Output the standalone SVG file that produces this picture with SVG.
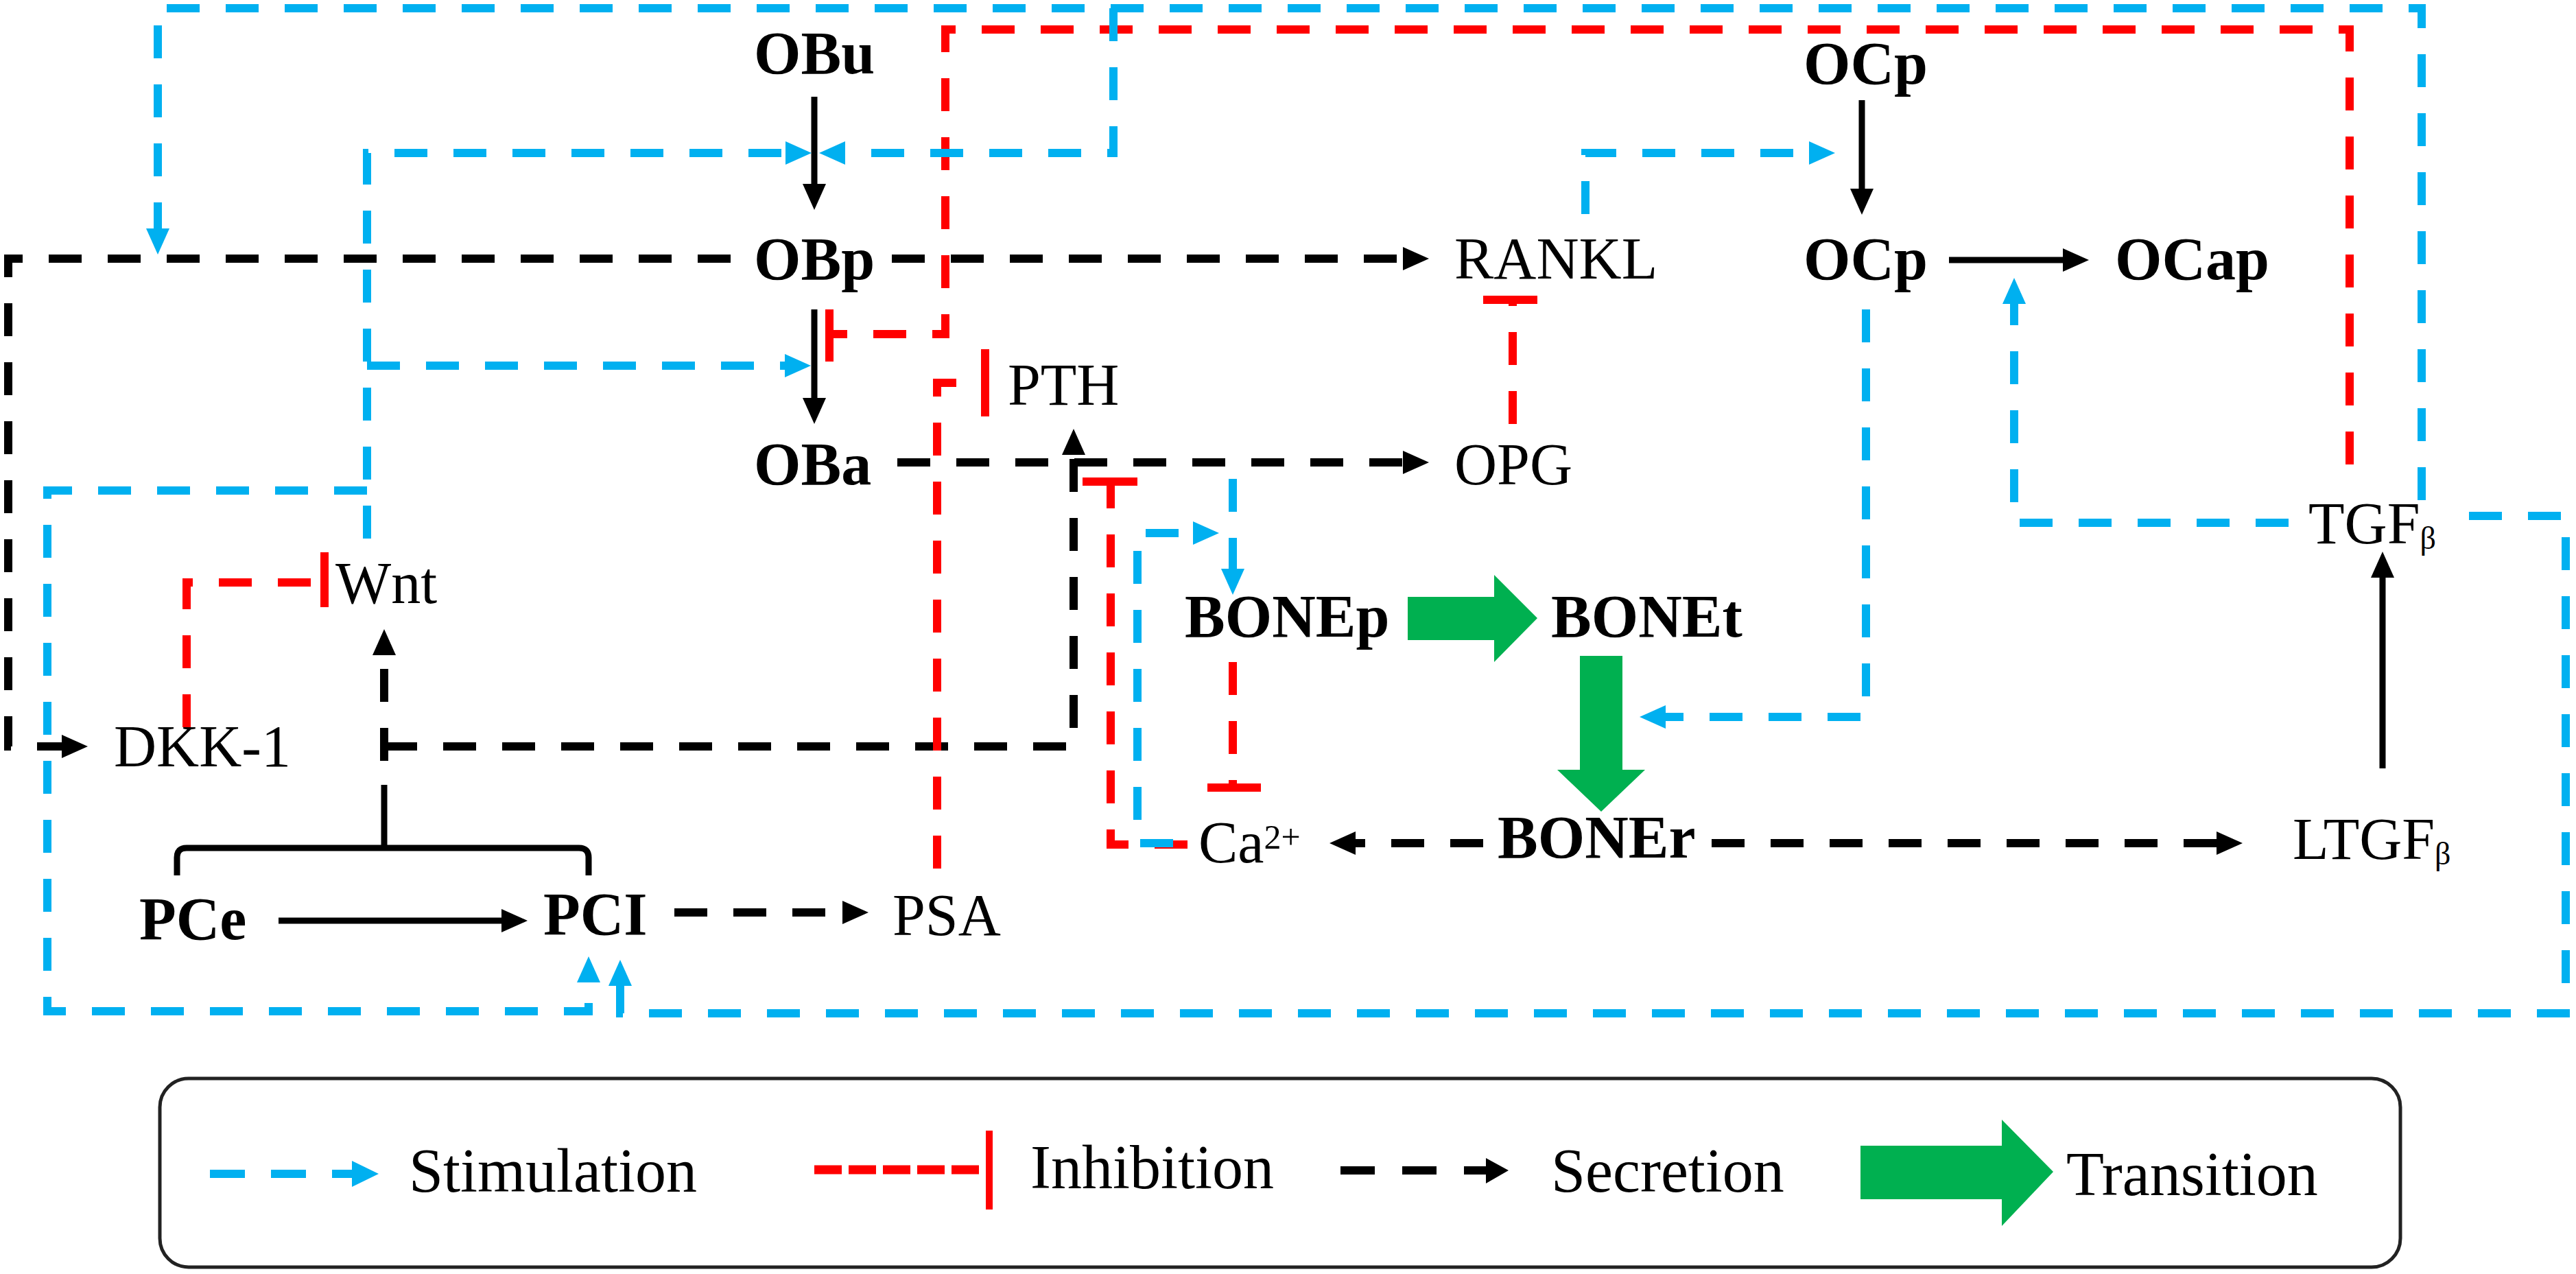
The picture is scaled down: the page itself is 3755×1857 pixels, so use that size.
<svg xmlns="http://www.w3.org/2000/svg" width="3755" height="1857" viewBox="0 0 3755 1857">
<style>
.t{font-family:"Liberation Serif","Times New Roman",serif;fill:#000}
.n{font-size:86px}
.b{font-size:88px;font-weight:bold}
.lg{font-size:90px}
.bl{fill:none;stroke:#00B0F0;stroke-width:12;stroke-dasharray:48 38}
.rd{fill:none;stroke:#FF0000;stroke-width:12;stroke-dasharray:48 38}
.rbar{fill:none;stroke:#FF0000;stroke-width:12}
.kd{fill:none;stroke:#000;stroke-width:12;stroke-dasharray:48 38}
.ks{fill:none;stroke:#000;stroke-width:9}
.gr{fill:#00B050}
</style>
<defs>
<marker id="ab" markerUnits="userSpaceOnUse" markerWidth="38" markerHeight="34" refX="18" refY="17" orient="auto"><path d="M0,0 L38,17 L0,34 z" fill="#00B0F0"/></marker>
<marker id="ak" markerUnits="userSpaceOnUse" markerWidth="38" markerHeight="34" refX="18" refY="17" orient="auto"><path d="M0,0 L38,17 L0,34 z" fill="#000"/></marker>
</defs>
<rect width="3755" height="1857" fill="#fff"/>

<g id="connectors">
  <!-- secretion (black dashed) -->
  <path class="kd" d="M1300,377 H2063" marker-end="url(#ak)"/>
  <path class="kd" d="M1065,377 H12 V1088 H108" marker-end="url(#ak)"/>
  <path class="kd" d="M1308,674 H2063" marker-end="url(#ak)"/>
  <path class="kd" d="M560,1109 V937" marker-end="url(#ak)"/>
  <path class="kd" d="M560,1088 H1565 V645" marker-end="url(#ak)"/>
  <path class="kd" d="M983,1330 H1246" marker-end="url(#ak)"/>
  <path class="kd" d="M2162,1229 H1958" marker-end="url(#ak)"/>
  <path class="kd" d="M2495,1229 H3249" marker-end="url(#ak)"/>
  <!-- solid transitions -->
  <path class="ks" d="M1187,141 V286" marker-end="url(#ak)"/>
  <path class="ks" d="M1187,451 V598" marker-end="url(#ak)"/>
  <path class="ks" d="M2714,146 V293" marker-end="url(#ak)"/>
  <path class="ks" d="M2841,379 H3025" stroke-width="12" marker-end="url(#ak)"/>
  <path class="ks" d="M406,1342 H749" stroke-width="10" marker-end="url(#ak)"/>
  <path class="ks" d="M3473,1120 V824" marker-end="url(#ak)"/>
  <path class="ks" d="M258,1276 V1250 Q258,1236 272,1236 H844 Q858,1236 858,1250 V1276 M560,1236 V1144" stroke-width="10"/>
  <!-- inhibition (red) -->
  <path class="rd" d="M3425,677 V43 H1378 V487 H1215"/>
  <path class="rbar" d="M1209,451 V527"/>
  <path class="rd" d="M1366,1266 V558 H1425"/>
  <path class="rbar" d="M1436,509 V607"/>
  <path class="rd" d="M1731,1231 H1619 V708"/>
  <path class="rbar" d="M1578,702 H1658"/>
  <path class="rd" d="M1797,965 V1148"/>
  <path class="rbar" d="M1760,1148 H1838"/>
  <path class="rd" d="M2205,618 V437"/>
  <path class="rbar" d="M2162,437 H2241"/>
  <path class="rd" d="M272,1060 V849 H467"/>
  <path class="rbar" d="M473,805 V885"/>
  <!-- stimulation (blue) -->
  <path class="bl" d="M3530,729 V12 H230 V351" marker-end="url(#ab)"/>
  <path class="bl" d="M1623,12 V223 H1214" marker-end="url(#ab)"/>
  <path class="bl" d="M535,785 V223 H1163" marker-end="url(#ab)"/>
  <path class="bl" d="M535,533 H1162" marker-end="url(#ab)"/>
  <path class="bl" d="M535,715 H69 V1474 H858 V1414" marker-end="url(#ab)"/>
  <path class="bl" d="M3599,752 H3740 V1477 H904 V1419" marker-end="url(#ab)"/>
  <path class="bl" d="M3336,762 H2936 V425" marker-end="url(#ab)"/>
  <path class="bl" d="M2720,451 V1045 H2410" marker-end="url(#ab)"/>
  <path class="bl" d="M2311,312 V223 H2655" marker-end="url(#ab)"/>
  <path class="bl" d="M1797,698 V847" marker-end="url(#ab)"/>
  <path class="bl" d="M1710,1229 H1658 V777 H1757" marker-end="url(#ab)"/>
  <!-- green transitions -->
  <polygon class="gr" points="2052,870 2178,870 2178,838 2241,901 2178,965 2178,933 2052,933"/>
  <polygon class="gr" points="2303,956 2365,956 2365,1122 2398,1122 2334,1183 2270,1122 2303,1122"/>
</g>

<g id="node-OBu"><text class="t b" x="1099" y="107">OBu</text></g>
<g id="node-OBp"><text class="t b" x="1099" y="407">OBp</text></g>
<g id="node-OBa"><text class="t b" x="1099" y="706">OBa</text></g>
<g id="node-RANKL"><text class="t n" x="2120" y="406">RANKL</text></g>
<g id="node-OPG"><text class="t n" x="2120" y="706">OPG</text></g>
<g id="node-PTH"><text class="t n" x="1469" y="590">PTH</text></g>
<g id="node-OCp1"><text class="t b" x="2629" y="122">OCp</text></g>
<g id="node-OCp2"><text class="t b" x="2629" y="407">OCp</text></g>
<g id="node-OCap"><text class="t b" x="3083" y="407">OCap</text></g>
<g id="node-TGFb"><text class="t n" x="3365" y="792">TGF<tspan font-size="46" y="800">β</tspan></text></g>
<g id="node-LTGFb"><text class="t n" x="3342" y="1252">LTGF<tspan font-size="46" y="1260">β</tspan></text></g>
<g id="node-BONEp"><text class="t b" x="1727" y="928">BONEp</text></g>
<g id="node-BONEt"><text class="t b" x="2261" y="928">BONEt</text></g>
<g id="node-BONEr"><text class="t b" x="2183" y="1250">BONEr</text></g>
<g id="node-Ca"><text class="t n" x="1747" y="1257">Ca<tspan font-size="50" y="1237">2+</tspan></text></g>
<g id="node-DKK1"><text class="t n" x="166" y="1117">DKK-1</text></g>
<g id="node-Wnt"><text class="t n" x="489" y="879">Wnt</text></g>
<g id="node-PCe"><text class="t b" x="203" y="1369">PCe</text></g>
<g id="node-PCI"><text class="t b" x="792" y="1362">PCI</text></g>
<g id="node-PSA"><text class="t n" x="1301" y="1363">PSA</text></g>

<g id="legend">
  <rect x="233" y="1572" width="3266" height="275" rx="42" ry="42" fill="none" stroke="#222" stroke-width="5"/>
  <path d="M306,1711 H513" fill="none" stroke="#00B0F0" stroke-width="12" stroke-dasharray="51 38"/>
  <polygon points="513,1692 552,1711 513,1730" fill="#00B0F0"/>
  <text class="t lg" x="596" y="1737">Stimulation</text>
  <path d="M1187,1705 H1428" fill="none" stroke="#FF0000" stroke-width="13" stroke-dasharray="40 10"/>
  <path d="M1442,1648 V1763" fill="none" stroke="#FF0000" stroke-width="10"/>
  <text class="t lg" x="1502" y="1732">Inhibition</text>
  <path d="M1954,1706 H2170" fill="none" stroke="#000" stroke-width="12" stroke-dasharray="50 40"/>
  <polygon points="2166,1688 2199,1706 2166,1725" fill="#000"/>
  <text class="t lg" x="2261" y="1737">Secretion</text>
  <polygon class="gr" points="2712,1670 2918,1670 2918,1632 2993,1708 2918,1787 2918,1748 2712,1748"/>
  <text class="t lg" x="3012" y="1742">Transition</text>
</g>
</svg>
